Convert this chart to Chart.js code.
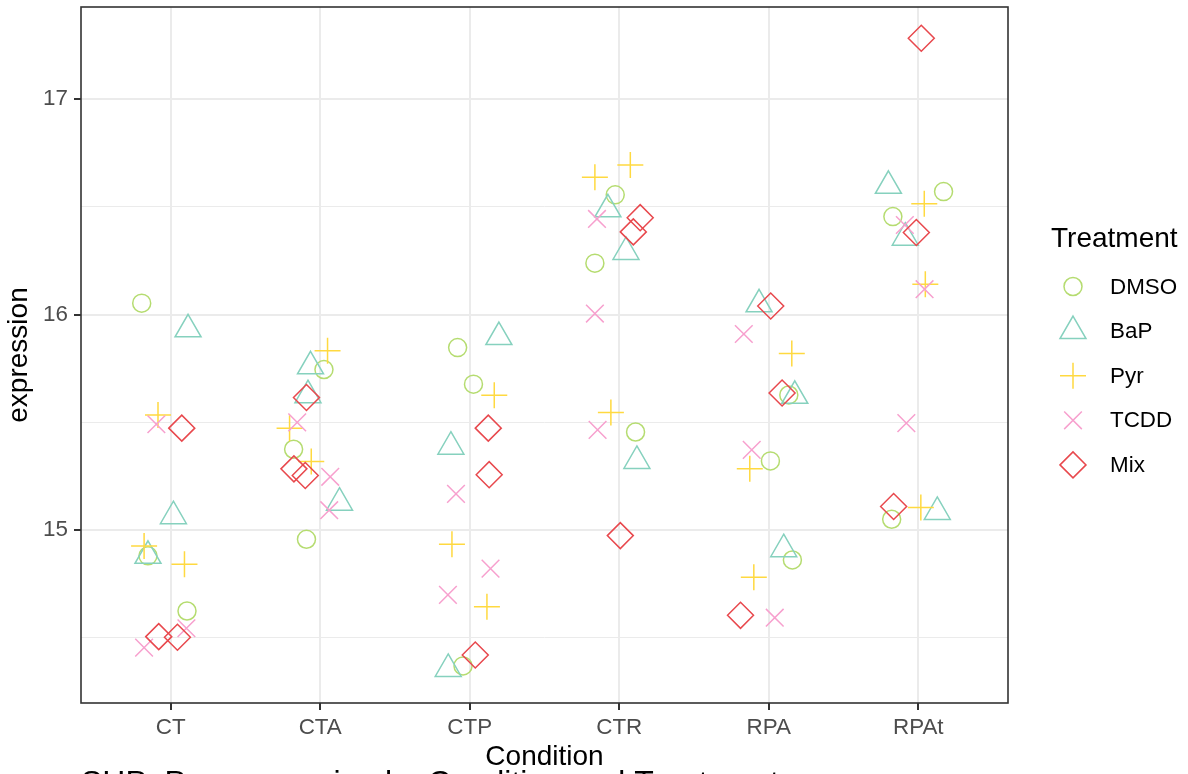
<!DOCTYPE html>
<html>
<head>
<meta charset="utf-8">
<script src="https://cdn.jsdelivr.net/npm/chart.js@4/dist/chart.umd.min.js"></script>
<style>
html, body { margin: 0; padding: 0; background: #ffffff; }
#wrap { width: 1188px; height: 774px; position: relative; overflow: hidden; }
canvas { display: block; }
</style>
</head>
<body>
<div id="wrap"><canvas id="c" width="1188" height="774"></canvas></div>
<script>
// ---------- data ----------
const conditions = ['CT', 'CTA', 'CTP', 'CTR', 'RPA', 'RPAt'];
const treatments = ['DMSO', 'BaP', 'Pyr', 'TCDD', 'Mix'];

const yTickValues = [14.5, 15, 15.5, 16, 16.5, 17];
const yTickLabels = ['', '15', '', '16', '', '17'];

const xTitle = 'Condition';
const yTitle = 'expression';
const legendTitle = 'Treatment';
const plotTitle = 'SHP: Pyr expression by Condition and Treatment';

// values per condition (3 replicates each)
const dmsoValues = [[16.053, 14.880, 14.624], [15.745, 15.375, 14.957], [15.847, 15.677, 14.369],
                    [16.556, 16.239, 15.455], [15.627, 15.321, 14.861], [16.571, 16.455, 15.050]];
const dmsoJitter = [[-0.194, -0.152, 0.109], [0.025, -0.178, -0.092], [-0.081, 0.025, -0.045],
                    [-0.027, -0.163, 0.109], [0.134, 0.011, 0.158], [0.169, -0.170, -0.178]];

const bapValues = [[15.932, 15.064, 14.880], [15.760, 15.626, 15.127], [15.896, 15.387, 14.355],
                   [16.489, 16.291, 15.321], [16.048, 15.623, 14.911], [16.598, 16.357, 15.084]];
const bapJitter = [[0.116, 0.018, -0.152], [-0.065, -0.082, 0.129], [0.195, -0.126, -0.144],
                   [-0.076, 0.045, 0.118], [-0.065, 0.174, 0.100], [-0.200, -0.087, 0.127]];

const pyrValues = [[15.534, 14.926, 14.841], [15.832, 15.473, 15.318], [15.626, 14.934, 14.644],
                   [16.695, 16.638, 15.545], [15.819, 15.284, 14.781], [16.515, 16.141, 15.104]];
const pyrJitter = [[-0.085, -0.178, 0.092], [0.049, -0.205, -0.060], [0.164, -0.119, 0.115],
                   [0.074, -0.163, -0.056], [0.154, -0.127, -0.100], [0.040, 0.047, 0.017]];

const tcddValues = [[15.491, 14.544, 14.454], [15.500, 15.247, 15.092], [15.168, 14.821, 14.699],
                    [16.444, 16.005, 15.465], [15.910, 15.372, 14.593], [16.416, 16.118, 15.496]];
const tcddJitter = [[-0.096, 0.105, -0.178], [-0.154, 0.067, 0.060], [-0.092, 0.139, -0.146],
                    [-0.149, -0.163, -0.145], [-0.167, -0.114, 0.040], [-0.090, 0.042, -0.080]];

const mixValues = [[15.473, 14.505, 14.502], [15.615, 15.284, 15.253], [15.473, 15.257, 14.420],
                   [16.450, 16.384, 14.974], [16.040, 15.636, 14.604], [17.283, 16.381, 15.109]];
const mixJitter = [[0.074, -0.080, 0.045], [-0.092, -0.176, -0.100], [0.124, 0.130, 0.037],
                   [0.140, 0.094, 0.007], [0.013, 0.089, -0.189], [0.020, -0.013, -0.165]];

// ---------- styles ----------
const seriesStyle = [
  { color: '#B5DC70', shape: 'circle',   radius: 9 },
  { color: '#86D1BE', shape: 'triangle', radius: 15 },
  { color: '#FFD940', shape: 'cross',    radius: 13 },
  { color: '#F7A0CE', shape: 'crossRot', radius: 12.5 },
  { color: '#E8484D', shape: 'rectRot',  radius: 13 }
];
const FONT = '"Liberation Sans", Arial, Helvetica, sans-serif';

function toPoints(values, jitter) {
  const pts = [];
  values.forEach((arr, ci) => {
    arr.forEach((v, k) => pts.push({ x: ci + jitter[ci][k], y: v }));
  });
  return pts;
}
const seriesValues = [dmsoValues, bapValues, pyrValues, tcddValues, mixValues];
const seriesJitter = [dmsoJitter, bapJitter, pyrJitter, tcddJitter, mixJitter];

const datasets = treatments.map((name, i) => ({
  label: name,
  data: toPoints(seriesValues[i], seriesJitter[i]),
  pointStyle: seriesStyle[i].shape,
  pointRadius: seriesStyle[i].radius,
  pointHoverRadius: seriesStyle[i].radius,
  pointBorderColor: seriesStyle[i].color,
  pointBackgroundColor: 'rgba(0,0,0,0)',
  pointBorderWidth: 1.5,
  showLine: false,
  order: treatments.length - i
}));

function drawShape(ctx, shape, r, x, y) {
  ctx.beginPath();
  if (shape === 'circle') {
    ctx.arc(x, y, r, 0, Math.PI * 2);
  } else if (shape === 'triangle') {
    let rad = 0;
    ctx.moveTo(x + Math.sin(rad) * r, y - Math.cos(rad) * r);
    rad += 2 * Math.PI / 3;
    ctx.lineTo(x + Math.sin(rad) * r, y - Math.cos(rad) * r);
    rad += 2 * Math.PI / 3;
    ctx.lineTo(x + Math.sin(rad) * r, y - Math.cos(rad) * r);
    ctx.closePath();
  } else if (shape === 'cross') {
    ctx.moveTo(x - r, y); ctx.lineTo(x + r, y);
    ctx.moveTo(x, y - r); ctx.lineTo(x, y + r);
  } else if (shape === 'crossRot') {
    const d = r * Math.SQRT1_2;
    ctx.moveTo(x - d, y - d); ctx.lineTo(x + d, y + d);
    ctx.moveTo(x + d, y - d); ctx.lineTo(x - d, y + d);
  } else if (shape === 'rectRot') {
    ctx.moveTo(x - r, y); ctx.lineTo(x, y - r); ctx.lineTo(x + r, y); ctx.lineTo(x, y + r);
    ctx.closePath();
  }
  ctx.stroke();
}

const decor = {
  id: 'decor',
  beforeDraw(chart) {
    const ctx = chart.ctx;
    ctx.save();
    ctx.fillStyle = '#ffffff';
    ctx.fillRect(0, 0, chart.width, chart.height);
    ctx.restore();
  },
  afterDraw(chart) {
    const ctx = chart.ctx;
    const a = chart.chartArea;
    ctx.save();
    // panel border
    ctx.strokeStyle = '#333333';
    ctx.lineWidth = 1.6;
    ctx.strokeRect(a.left, a.top, a.right - a.left, a.bottom - a.top);

    // axis titles
    ctx.fillStyle = '#000000';
    ctx.font = '28px ' + FONT;
    ctx.textAlign = 'center';
    ctx.textBaseline = 'middle';
    ctx.fillText(xTitle, (a.left + a.right) / 2, 757);
    ctx.save();
    ctx.translate(19, (a.top + a.bottom) / 2);
    ctx.rotate(-Math.PI / 2);
    ctx.fillText(yTitle, 0, 0);
    ctx.restore();

    // legend
    ctx.textAlign = 'left';
    ctx.font = '28px ' + FONT;
    ctx.fillText(legendTitle, 1051, 239);
    ctx.font = '22.4px ' + FONT;
    const y0 = 286.5, dy = 44.6;
    treatments.forEach((name, i) => {
      const y = y0 + i * dy;
      ctx.strokeStyle = seriesStyle[i].color;
      ctx.lineWidth = 1.5;
      drawShape(ctx, seriesStyle[i].shape, seriesStyle[i].radius, 1073, y);
      ctx.fillStyle = '#000000';
      ctx.fillText(name, 1110, y + 1);
    });

    // plot title (cut off at the bottom edge)
    ctx.font = '32px ' + FONT;
    ctx.textBaseline = 'alphabetic';
    ctx.fillText(plotTitle, 81, 793);
    ctx.restore();
  }
};

const chart = new Chart(document.getElementById('c'), {
  type: 'scatter',
  data: { datasets },
  plugins: [decor],
  options: {
    responsive: false,
    animation: false,
    devicePixelRatio: 1,
    layout: { autoPadding: false, padding: { top: 7, right: 180, bottom: 0, left: 0 } },
    plugins: { legend: { display: false }, tooltip: { enabled: false }, title: { display: false } },
    events: [],
    scales: {
      x: {
        type: 'linear',
        min: -0.6,
        max: conditions.length - 0.4,
        afterBuildTicks: (s) => { s.ticks = conditions.map((c, i) => ({ value: i })); },
        afterFit: (s) => { s.height = 71; s.paddingLeft = 0; s.paddingRight = 0; },
        ticks: {
          callback: (v) => conditions[Math.round(v)],
          color: '#4D4D4D',
          font: { family: FONT, size: 22.4 },
          padding: 4,
          maxRotation: 0,
          autoSkip: false
        },
        grid: {
          color: '#EBEBEB',
          lineWidth: 2,
          tickLength: 7,
          tickColor: '#333333',
          tickWidth: 2
        },
        border: { display: false }
      },
      y: {
        type: 'linear',
        min: 14.197,
        max: 17.428,
        afterBuildTicks: (s) => { s.ticks = yTickValues.map(v => ({ value: v })); },
        afterFit: (s) => { s.width = 81; s.paddingTop = 0; s.paddingBottom = 0; },
        ticks: {
          callback: (v) => yTickLabels[yTickValues.indexOf(v)] ?? '',
          color: '#4D4D4D',
          font: { family: FONT, size: 22.4 },
          padding: 6,
          autoSkip: false
        },
        grid: {
          color: '#EBEBEB',
          lineWidth: (c) => (c.tick && Number.isInteger(c.tick.value)) ? 2 : 1,
          tickLength: 7,
          tickColor: (c) => (c.tick && Number.isInteger(c.tick.value)) ? '#333333' : 'rgba(0,0,0,0)',
          tickWidth: 2
        },
        border: { display: false }
      }
    }
  }
});
</script>
</body>
</html>
